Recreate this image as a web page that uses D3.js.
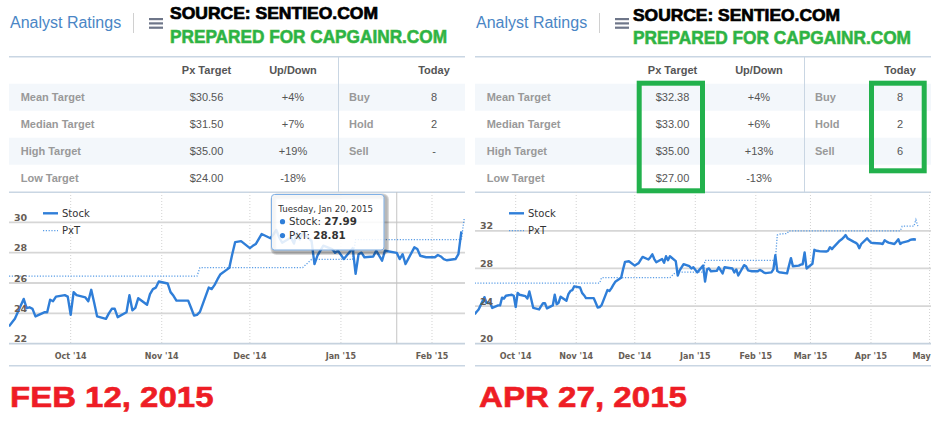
<!DOCTYPE html>
<html><head><meta charset="utf-8">
<script src="https://cdn.jsdelivr.net/npm/d3@7"></script>
<style>body{margin:0;background:#fff}svg{display:block}</style>
</head><body>
<svg id="c" width="944" height="424"></svg>
<script>
// ---------------- DATA ----------------
const stockDates = ["2014-09-10","2014-09-11","2014-09-12","2014-09-15","2014-09-16","2014-09-17","2014-09-18","2014-09-19","2014-09-22","2014-09-23","2014-09-24","2014-09-25","2014-09-26","2014-09-29","2014-09-30",
"2014-10-01","2014-10-02","2014-10-03","2014-10-06","2014-10-07","2014-10-08","2014-10-09","2014-10-10","2014-10-13","2014-10-14","2014-10-15","2014-10-16","2014-10-17","2014-10-20","2014-10-21","2014-10-22","2014-10-23","2014-10-24","2014-10-27","2014-10-28","2014-10-29","2014-10-30","2014-10-31",
"2014-11-03","2014-11-04","2014-11-05","2014-11-06","2014-11-07","2014-11-10","2014-11-11","2014-11-12","2014-11-13","2014-11-14","2014-11-17","2014-11-18","2014-11-19","2014-11-20","2014-11-21","2014-11-24","2014-11-25","2014-11-26","2014-11-28",
"2014-12-01","2014-12-02","2014-12-03","2014-12-04","2014-12-05","2014-12-08","2014-12-09","2014-12-10","2014-12-11","2014-12-12","2014-12-15","2014-12-16","2014-12-17","2014-12-18","2014-12-19","2014-12-22","2014-12-23","2014-12-24","2014-12-26","2014-12-29","2014-12-30","2014-12-31",
"2015-01-02","2015-01-05","2015-01-06","2015-01-07","2015-01-08","2015-01-09","2015-01-12","2015-01-13","2015-01-14","2015-01-15","2015-01-16","2015-01-20","2015-01-21","2015-01-22","2015-01-23","2015-01-26","2015-01-27","2015-01-28","2015-01-29","2015-01-30",
"2015-02-02","2015-02-03","2015-02-04","2015-02-05","2015-02-06","2015-02-09","2015-02-10","2015-02-11","2015-02-12","2015-02-13","2015-02-17","2015-02-18","2015-02-19","2015-02-20","2015-02-23","2015-02-24","2015-02-25","2015-02-26","2015-02-27",
"2015-03-02","2015-03-03","2015-03-04","2015-03-05","2015-03-06","2015-03-09","2015-03-10","2015-03-11","2015-03-12","2015-03-13","2015-03-16","2015-03-17","2015-03-18","2015-03-19","2015-03-20","2015-03-23","2015-03-24","2015-03-25","2015-03-26","2015-03-27","2015-03-30","2015-03-31",
"2015-04-01","2015-04-02","2015-04-06","2015-04-07","2015-04-08","2015-04-09","2015-04-10","2015-04-13","2015-04-14","2015-04-15","2015-04-16","2015-04-17","2015-04-20","2015-04-21","2015-04-22","2015-04-23","2015-04-24"];
const stockValues = [23.14,23.4,23.64,24.95,24.34,24.4,24.3,23.8,24.07,24.07,24.9,24.8,25.1,25.2,25.1,
23.9,25.4,25.2,25.05,24.8,25.55,24.7,23.8,23.64,24.0,24.3,24.3,23.75,24.07,25.2,24.2,24.36,25.0,24.57,25.27,25.6,25.7,26.1,
25.97,25.4,25.16,24.84,24.84,24.84,24.35,23.85,23.9,24.1,25.7,25.6,25.88,26.25,26.58,27.0,27.9,28.7,28.76,
28.3,28.45,28.57,28.9,29.23,28.95,29.2,29.5,29.0,28.66,29.0,28.6,29.3,28.87,29.3,28.77,27.25,27.8,28.46,28.24,28.0,28.13,
27.58,28.3,26.6,27.9,28.0,27.7,27.75,28.13,27.8,27.47,28.13,27.99,27.58,27.9,27.25,28.35,28.24,27.8,27.75,27.7,
27.7,27.85,27.75,27.58,27.5,27.58,27.9,29.4,27.72,27.6,27.48,28.3,29.1,28.24,28.3,28.4,28.45,29.7,28.0,
28.5,29.98,29.88,29.85,29.82,29.8,29.88,30.26,30.05,30.3,30.95,31.1,31.3,31.55,31.2,30.85,30.75,30.6,30.16,30.6,31.2,30.95,
30.75,30.7,30.65,30.6,31.0,30.85,30.75,30.6,30.85,31.1,30.6,30.75,30.9,31.03,31.08,31.1,31.05];

const pxtFebDates  = ["2014-09-10","2014-11-13","2014-11-14","2014-12-19","2014-12-22","2015-01-05","2015-01-06","2015-02-11","2015-02-12"];
const pxtFebValues = [26.45,26.45,27.02,27.02,27.56,27.56,28.86,28.86,30.3];
const pxtAprDates  = ["2014-09-10","2014-11-13","2014-11-14","2014-12-19","2014-12-22","2015-01-05","2015-01-06","2015-02-11","2015-02-12","2015-02-13","2015-02-17","2015-02-18","2015-04-16","2015-04-17","2015-04-23","2015-04-24","2015-04-25"];
const pxtAprValues = [26.45,26.45,27.02,27.02,27.6,27.6,28.86,28.86,31.55,31.65,31.72,32.0,32.0,32.49,32.49,33.18,32.5];

const rowLabels    = ["Mean Target","Median Target","High Target","Low Target"];
const headerLabels = ["Px Target","Up/Down","Today"];
const ratingLabels = ["Buy","Hold","Sell"];
const pxTargetFeb  = ["$30.56","$31.50","$35.00","$24.00"];
const upDownFeb    = ["+4%","+7%","+19%","-18%"];
const ratingsFeb   = ["8","2","-"];
const pxTargetApr  = ["$32.38","$33.00","$35.00","$27.00"];
const upDownApr    = ["+4%","+6%","+13%","-13%"];
const ratingsApr   = ["8","2","6"];
const yTicksFeb = [22,24,26,28,30];
const yTicksApr = [20,24,28,32];
const seriesNames = ["Stock","PxT"];
const snapshotLabels = ["FEB 12, 2015","APR 27, 2015"];
const tooltipDate = "2015-01-20";
const tooltipHeader = "Tuesday, Jan 20, 2015";
const tooltipValues = ["27.99","28.81"];

// ---------------- DRAWING ----------------
const parse = d3.utcParse("%Y-%m-%d");
const svg = d3.select("#c");
const ARIAL = "'Liberation Sans', Arial, sans-serif";
const DEJA = "'DejaVu Sans', Verdana, sans-serif";
const STOCK_C = "#2f7ed8", PXT_C = "#5a9de6", TICK_C = "#675e56", LINE_C = "#c9d6e3";

const panels = [
  {dx:0, end:"2015-02-11", xDom:["2014-09-10","2015-02-12"], xRange:[9,464.3], yDom:[22,32], yRange:[343.7,192],
   yTicks:yTicksFeb, pxtD:pxtFebDates, pxtV:pxtFebValues, px:pxTargetFeb, ud:upDownFeb, counts:ratingsFeb,
   label:snapshotLabels[0], labelX:10, labelW:203.5, srcX:170, srcY:19.3, srcW:208, prepY:42.7, prepW:277, tooltip:true, boxes:false, shortLast:false},
  {dx:466, end:"2015-04-24", xDom:["2014-09-10","2015-05-02"], xRange:[474.7,931.5], yDom:[20,36], yRange:[343.7,193.2],
   yTicks:yTicksApr, pxtD:pxtAprDates, pxtV:pxtAprValues, px:pxTargetApr, ud:upDownApr, counts:ratingsApr,
   label:snapshotLabels[1], labelX:479, labelW:208, srcX:633, srcY:20.7, srcW:207, prepY:44, prepW:278, tooltip:false, boxes:true, shortLast:true}
];

panels.forEach(p => {
  const g = svg.append("g");
  const dx = p.dx, L = 9+dx, R = 465+dx, TOP = 192, BOT = p.yRange[0];

  // header
  g.append("text").attr("x",10+dx).attr("y",28).attr("font-family",ARIAL).attr("font-size",16)
    .attr("fill","#4a86c5").text("Analyst Ratings");
  g.append("line").attr("x1",133.5+dx).attr("x2",133.5+dx).attr("y1",13).attr("y2",33).attr("stroke","#d0d0d0");
  [19,23.3,27.6].forEach(yy => g.append("rect").attr("x",149+dx).attr("y",yy-1).attr("width",14).attr("height",2.2).attr("fill","#6e7689"));

  // table
  const rowTop = 83.7, rowH = 27;
  rowLabels.forEach((r,i) => {
    if (i%2===0) g.append("rect").attr("x",L).attr("y",rowTop+i*rowH).attr("width",R-L).attr("height",rowH).attr("fill","#f3f7fb");
  });
  g.append("line").attr("x1",L).attr("x2",R).attr("y1",56.7).attr("y2",56.7).attr("stroke",LINE_C).attr("stroke-width",1.5);
  g.append("line").attr("x1",L).attr("x2",R).attr("y1",192.3).attr("y2",192.3).attr("stroke",LINE_C).attr("stroke-width",1.5);
  g.append("line").attr("x1",338.5+dx).attr("x2",338.5+dx).attr("y1",57).attr("y2",192).attr("stroke",LINE_C);
  const colPx = 206.5+dx, colUd = 293+dx, colCnt = 434+dx;
  [colPx,colUd,colCnt].forEach((cx,i) => g.append("text").attr("x",cx).attr("y",74).attr("text-anchor","middle")
     .attr("font-family",ARIAL).attr("font-size",11).attr("font-weight","bold").attr("fill","#555").text(headerLabels[i]));
  rowLabels.forEach((r,i) => {
    const by = rowTop + i*rowH + rowH/2 + 4;
    g.append("text").attr("x",20.7+dx).attr("y",by).attr("font-family",ARIAL).attr("font-size",11).attr("font-weight","bold").attr("fill","#999").text(r);
    g.append("text").attr("x",colPx).attr("y",by).attr("text-anchor","middle").attr("font-family",ARIAL).attr("font-size",11).attr("fill","#555").text(p.px[i]);
    g.append("text").attr("x",colUd).attr("y",by).attr("text-anchor","middle").attr("font-family",ARIAL).attr("font-size",11).attr("fill","#555").text(p.ud[i]);
    if (i < ratingLabels.length) {
      g.append("text").attr("x",349+dx).attr("y",by).attr("font-family",ARIAL).attr("font-size",11).attr("font-weight","bold").attr("fill","#999").text(ratingLabels[i]);
      g.append("text").attr("x",colCnt).attr("y",by).attr("text-anchor","middle").attr("font-family",ARIAL).attr("font-size",11).attr("fill","#555").text(p.counts[i]);
    }
  });

  // chart scales
  const x = d3.scaleUtc().domain(p.xDom.map(parse)).range(p.xRange);
  const y = d3.scaleLinear().domain(p.yDom).range(p.yRange);
  const months = d3.utcMonth.range(d3.utcMonth.ceil(x.domain()[0]), x.domain()[1]);

  // grid
  g.selectAll(null).data(months).join("line")
    .attr("x1",d=>x(d)).attr("x2",d=>x(d)).attr("y1",TOP).attr("y2",BOT)
    .attr("stroke","#d2d2d2").attr("stroke-dasharray","1,2");
  g.selectAll(null).data(p.yTicks.slice(1)).join("line")
    .attr("x1",L).attr("x2",R).attr("y1",d=>y(d)).attr("y2",d=>y(d))
    .attr("stroke","#d6d6d6").attr("stroke-width",1.8);
  g.append("line").attr("x1",L).attr("x2",R).attr("y1",BOT).attr("y2",BOT).attr("stroke","#c6d2de").attr("stroke-width",1.8);
  g.append("line").attr("x1",L).attr("x2",R).attr("y1",365.7).attr("y2",365.7).attr("stroke",LINE_C).attr("stroke-width",1.5);

  // x labels
  const fmt = d3.utcFormat("%b '%y");
  g.selectAll(null).data(months).join("text")
    .attr("x",d=>x(d)).attr("y",359.3).attr("text-anchor","middle")
    .attr("font-family",DEJA).attr("font-size",8).attr("font-weight","bold").attr("fill",TICK_C)
    .text((d,i)=> (p.shortLast && i===months.length-1) ? d3.utcFormat("%b")(d) : fmt(d))
    .attr("dx",(d,i)=> (p.shortLast && i===months.length-1) ? -8 : 0);

  // crosshair
  if (p.tooltip) {
    const cx = x(parse(tooltipDate));
    g.append("line").attr("x1",cx).attr("x2",cx).attr("y1",TOP).attr("y2",BOT).attr("stroke","#c4c4c4");
  }

  // series
  const endD = parse(p.end);
  const stock = stockDates.map((d,i)=>({d:parse(d),v:stockValues[i]})).filter(o=>o.d<=endD);
  const pxt = p.pxtD.map((d,i)=>({d:parse(d),v:p.pxtV[i]}));
  const line = d3.line().x(o=>x(o.d)).y(o=>y(o.v));
  const clipId = "clip"+dx;
  g.append("clipPath").attr("id",clipId).append("rect").attr("x",L).attr("y",TOP).attr("width",R-L+1).attr("height",BOT-TOP+2);
  const sg = g.append("g").attr("clip-path",`url(#${clipId})`);
  sg.append("path").attr("d",line(pxt)).attr("fill","none").attr("stroke",PXT_C).attr("stroke-width",1.3).attr("stroke-dasharray","1.2,1.6");
  sg.append("path").attr("d",line(stock)).attr("fill","none").attr("stroke",STOCK_C).attr("stroke-width",2.4).attr("stroke-linejoin","round");

  // y labels
  g.selectAll(null).data(p.yTicks).join("text")
    .attr("x",L+5).attr("y",d=>y(d)-1.5)
    .attr("font-family",DEJA).attr("font-size",9.5).attr("font-weight","bold").attr("fill",TICK_C).text(d=>d);

  // legend
  g.append("line").attr("x1",L+34).attr("x2",L+49).attr("y1",213.3).attr("y2",213.3).attr("stroke",STOCK_C).attr("stroke-width",2.4);
  g.append("text").attr("x",L+53).attr("y",217).attr("font-family",DEJA).attr("font-size",10).attr("fill","#333").text(seriesNames[0]);
  g.append("line").attr("x1",L+34).attr("x2",L+49).attr("y1",230.7).attr("y2",230.7).attr("stroke",PXT_C).attr("stroke-width",1.3).attr("stroke-dasharray","1.2,1.6");
  g.append("text").attr("x",L+53).attr("y",234).attr("font-family",DEJA).attr("font-size",10).attr("fill","#333").text(seriesNames[1]);

  // tooltip
  if (p.tooltip) {
    const tx = 271.5, ty = 194.5, tw = 112.5, th = 55.5;
    [3,2,1].forEach(k => g.append("rect").attr("x",tx+1).attr("y",ty+1).attr("width",tw).attr("height",th).attr("rx",3)
       .attr("fill","none").attr("stroke","#000").attr("stroke-opacity",0.05*k).attr("stroke-width",k*2)
       .attr("transform",`translate(${1},${1})`));
    g.append("rect").attr("x",tx).attr("y",ty).attr("width",tw).attr("height",th).attr("rx",3)
      .attr("fill","rgba(255,255,255,0.86)").attr("stroke","#7fb0e6");
    g.append("text").attr("x",278.3).attr("y",211.7).attr("font-family",DEJA).attr("font-size",8.6).attr("fill","#333").text(tooltipHeader);
    seriesNames.forEach((n,i) => {
      const by = [225.3,239.2][i];
      g.append("circle").attr("cx",282.5).attr("cy",by-3.6).attr("r",2.6).attr("fill",STOCK_C);
      const t = g.append("text").attr("x",289).attr("y",by).attr("font-family",DEJA).attr("font-size",10.3).attr("fill","#333");
      t.append("tspan").text(n+": ");
      t.append("tspan").attr("font-weight","bold").text(tooltipValues[i]);
    });
  }

  // green highlight boxes
  if (p.boxes) {
    g.append("rect").attr("x",639.2).attr("y",83.2).attr("width",63.3).attr("height",107.6).attr("fill","none").attr("stroke","#22b14c").attr("stroke-width",5);
    g.append("rect").attr("x",871.5).attr("y",83.2).attr("width",52.7).attr("height",87.6).attr("fill","none").attr("stroke","#22b14c").attr("stroke-width",5);
  }

  // overlay texts
  g.append("text").attr("x",p.srcX).attr("y",p.srcY).attr("font-family",ARIAL).attr("font-size",17).attr("font-weight","bold")
    .attr("fill","#000").attr("stroke","#000").attr("stroke-width",0.7).attr("textLength",p.srcW).attr("lengthAdjust","spacingAndGlyphs").text("SOURCE: SENTIEO.COM");
  g.append("text").attr("x",p.srcX).attr("y",p.prepY).attr("font-family",ARIAL).attr("font-size",19).attr("font-weight","bold")
    .attr("fill","#25b34b").attr("stroke","#4cb83c").attr("stroke-width",0.7).attr("textLength",p.prepW).attr("lengthAdjust","spacingAndGlyphs").text("PREPARED FOR CAPGAINR.COM");

  g.append("text").attr("x",p.labelX).attr("y",407).attr("font-family",ARIAL).attr("font-size",29).attr("font-weight","bold")
    .attr("fill","#ee1d25").attr("stroke","#ee1d25").attr("stroke-width",0.6).attr("textLength",p.labelW).attr("lengthAdjust","spacingAndGlyphs").text(p.label);
});
</script>
</body></html>
